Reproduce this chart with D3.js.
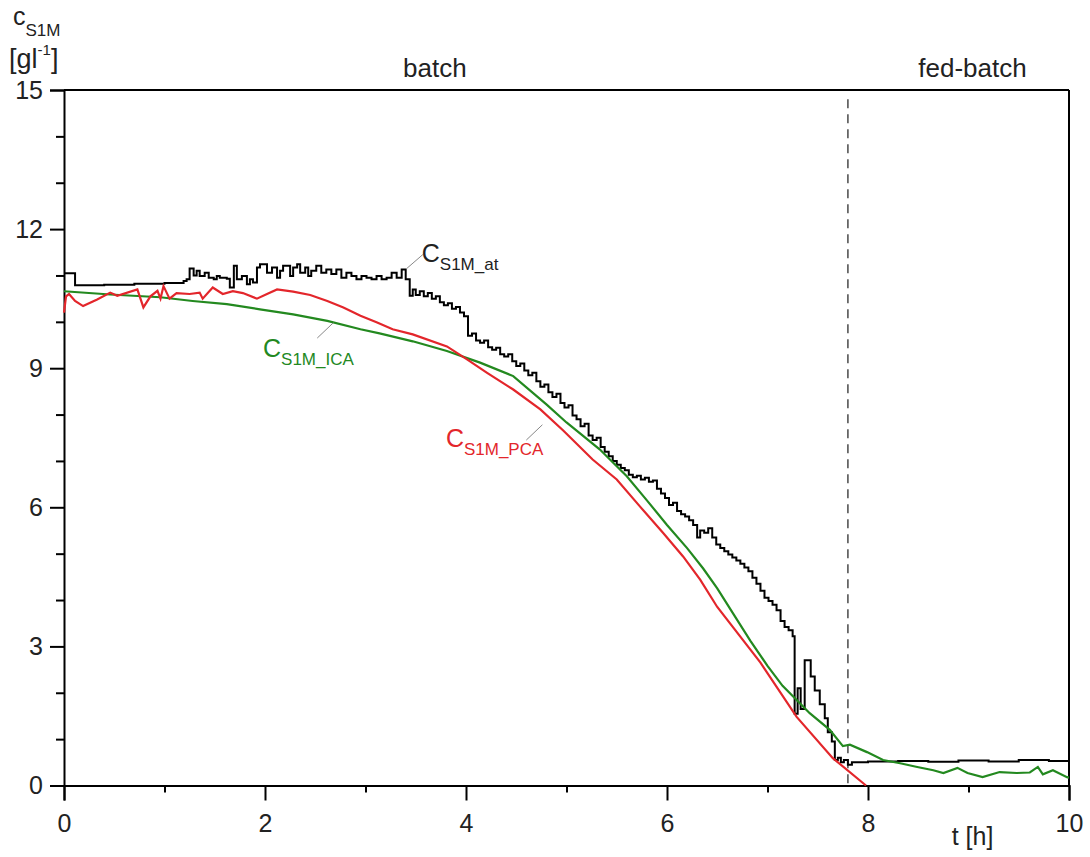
<!DOCTYPE html>
<html><head><meta charset="utf-8">
<script src="https://cdn.jsdelivr.net/npm/d3@7"></script>
<style>
html,body{margin:0;padding:0;background:#fff;}
svg text{font-family:"Liberation Sans",Arial,sans-serif;}
</style></head>
<body><svg id="c" width="1090" height="857"></svg>
<script>
// ---- data ----
const xTicksMajor = [0,2,4,6,8,10];
const xTicksMinor = [1,3,5,7,9];
const yTicksMajor = [0,3,6,9,12,15];
const yTicksMinor = [1,2,4,5,7,8,10,11,13,14];
const phaseSwitchT = 7.8;

// c_S1M_at (black, stepped)
const atT = [0,0.11,0.40,0.70,1.00,1.19,1.22,1.25,1.29,1.32,1.35,1.40,1.44,1.49,1.52,1.55,1.62,1.65,1.69,1.72,1.77,1.82,1.85,1.88,1.92,1.95,2.02,2.07,2.12,2.15,2.18,2.25,2.28,2.32,2.35,2.40,2.43,2.46,2.51,2.56,2.61,2.66,2.71,2.76,2.81,2.86,2.91,2.96,3.01,3.06,3.11,3.16,3.21,3.26,3.31,3.36,3.40,
  3.44,3.47,3.50,3.54,3.58,3.62,3.66,3.70,3.74,3.78,3.82,3.86,3.90,3.94,3.98,4.02,4.06,4.10,4.14,4.18,4.22,4.26,4.30,4.34,4.38,4.42,4.46,4.50,4.54,4.58,4.62,4.66,4.70,4.74,4.78,4.82,4.86,4.90,4.94,4.98,5.02,5.06,5.10,5.14,5.18,5.22,5.26,5.30,5.34,5.38,5.42,5.46,5.50,5.54,5.58,5.62,5.66,5.70,5.74,5.78,5.82,5.86,5.90,5.94,5.98,6.02,6.06,6.10,6.14,6.18,6.22,6.26,6.30,6.33,6.37,6.41,6.45,6.49,6.53,6.57,6.61,6.65,6.69,6.73,6.77,6.81,6.85,6.89,6.93,6.97,7.01,7.05,7.09,7.13,7.17,7.21,7.25,
  7.27,7.30,7.33,7.37,7.43,7.47,7.52,7.57,7.60,7.64,7.67,7.70,7.73,7.76,7.80,7.84,8.00,8.30,8.60,8.90,9.20,9.50,9.80,10.0];
const atV = [11.05,10.79,10.80,10.82,10.84,10.88,10.92,11.15,11.00,11.10,10.99,11.06,10.95,10.92,10.99,10.95,10.93,10.74,11.21,10.92,10.99,10.81,10.92,10.85,11.17,11.24,11.06,11.17,10.95,11.10,11.21,10.99,11.17,11.24,11.06,11.17,10.99,11.10,11.21,11.06,11.13,11.03,11.13,10.95,11.06,10.99,10.92,10.99,10.95,10.92,10.99,10.92,10.95,11.06,10.95,11.13,10.92,
  10.56,10.70,10.58,10.66,10.55,10.62,10.50,10.55,10.42,10.36,10.40,10.28,10.32,10.20,10.12,9.70,9.75,9.60,9.55,9.60,9.45,9.40,9.44,9.30,9.25,9.30,9.15,9.05,9.10,8.95,8.85,8.90,8.72,8.60,8.65,8.48,8.38,8.45,8.25,8.15,8.20,7.98,7.90,7.75,7.80,7.55,7.45,7.50,7.30,7.20,7.10,7.00,6.92,6.85,6.80,6.70,6.65,6.68,6.60,6.64,6.55,6.58,6.40,6.30,6.20,6.05,6.10,5.92,5.85,5.80,5.72,5.62,5.35,5.50,5.45,5.55,5.35,5.20,5.12,5.05,4.98,4.92,4.85,4.78,4.70,4.62,4.48,4.35,4.20,4.05,3.98,3.90,3.78,3.55,3.42,3.35,3.22,
  1.55,2.10,1.65,2.70,2.35,2.05,1.75,1.45,1.15,0.95,0.55,0.60,0.50,0.55,0.45,0.50,0.52,0.53,0.51,0.54,0.52,0.55,0.53,0.53];

// c_S1M_PCA (red)
const pcaT = [0,0.02,0.05,0.11,0.19,0.33,0.46,0.53,0.73,0.79,0.86,0.93,0.96,0.99,1.05,1.12,1.25,1.35,1.38,1.48,1.58,1.68,1.78,1.92,2.02,2.12,2.28,2.45,2.62,2.78,2.95,3.11,3.27,3.47,3.81,4.01,4.21,4.47,4.74,4.97,5.26,5.50,5.73,5.96,6.16,6.33,6.50,6.93,7.29,7.65,7.98];
const pcaV = [10.20,10.55,10.60,10.45,10.34,10.48,10.63,10.56,10.70,10.31,10.55,10.67,10.50,10.77,10.50,10.62,10.60,10.63,10.50,10.74,10.60,10.66,10.62,10.50,10.60,10.70,10.65,10.58,10.45,10.31,10.13,9.99,9.84,9.73,9.47,9.19,8.90,8.54,8.11,7.65,7.03,6.60,6.02,5.45,4.94,4.44,3.85,2.65,1.48,0.59,0.0];

// c_S1M_ICA (green)
const icaT = [0,0.46,0.96,1.28,1.62,1.95,2.28,2.62,2.95,3.14,3.47,3.81,4.14,4.47,4.80,5.00,5.33,5.60,5.80,6.00,6.20,6.36,6.50,6.66,6.83,7.00,7.15,7.42,7.62,7.75,7.82,7.99,8.15,8.32,8.49,8.65,8.75,8.89,8.99,9.14,9.31,9.48,9.61,9.69,9.74,9.84,9.98,10.0];
const icaV = [10.66,10.59,10.53,10.45,10.38,10.27,10.16,10.02,9.84,9.75,9.58,9.37,9.12,8.83,8.22,7.83,7.25,6.67,6.15,5.62,5.12,4.68,4.25,3.70,3.12,2.58,2.15,1.56,1.20,0.85,0.88,0.72,0.55,0.48,0.40,0.33,0.27,0.38,0.27,0.18,0.29,0.27,0.28,0.40,0.24,0.33,0.18,0.17];

// ---- drawing ----
const svg = d3.select("#c");
const pL = 64, pR = 1069, pT = 90, pB = 785.5;
const x = d3.scaleLinear().domain([0,10]).range([pL,pR]);
const y = d3.scaleLinear().domain([0,15]).range([pB,pT]);
const RED = "#e3262b", GREEN = "#23891f", FS = 25;

// frame (top and right)
svg.append("line").attr("x1",pL).attr("x2",pR).attr("y1",pT).attr("y2",pT).attr("stroke","#000").attr("stroke-width",2);
svg.append("line").attr("x1",pR).attr("x2",pR).attr("y1",pT).attr("y2",pB).attr("stroke","#000").attr("stroke-width",2);

// phase line
svg.append("line").attr("x1",x(phaseSwitchT)).attr("x2",x(phaseSwitchT))
  .attr("y1",y(14.8)).attr("y2",pB).attr("stroke","#555").attr("stroke-width",1.6)
  .attr("stroke-dasharray","9,6");

// axes
const xAxis = d3.axisBottom(x).tickValues(xTicksMajor).tickSize(15).tickPadding(14).tickFormat(d3.format("d"));
const gx = svg.append("g").attr("transform",`translate(0,${pB})`).call(xAxis);
gx.select(".domain").attr("stroke-width",2);
gx.selectAll(".tick line").attr("stroke-width",2);
gx.selectAll("text").attr("font-size",FS).attr("fill","#222").style("font-family","Liberation Sans, Arial, sans-serif");
const gxm = svg.append("g").attr("transform",`translate(0,${pB})`).call(d3.axisBottom(x).tickValues(xTicksMinor).tickSize(7).tickFormat(""));
gxm.select(".domain").remove(); gxm.selectAll(".tick line").attr("stroke-width",2);

const yAxis = d3.axisLeft(y).tickValues(yTicksMajor).tickSize(14).tickPadding(7).tickFormat(d3.format("d"));
const gy = svg.append("g").attr("transform",`translate(${pL},0)`).call(yAxis);
gy.select(".domain").attr("stroke-width",2);
gy.selectAll(".tick line").attr("stroke-width",2);
gy.selectAll("text").attr("font-size",FS).attr("fill","#222").style("font-family","Liberation Sans, Arial, sans-serif");
const gym = svg.append("g").attr("transform",`translate(${pL},0)`).call(d3.axisLeft(y).tickValues(yTicksMinor).tickSize(8).tickFormat(""));
gym.select(".domain").remove(); gym.selectAll(".tick line").attr("stroke-width",2);

// series
const zip = (ts,vs)=>ts.map((t,i)=>[t,vs[i]]);
const lin = d3.line().x(d=>x(d[0])).y(d=>y(d[1]));
const step = d3.line().x(d=>x(d[0])).y(d=>y(d[1])).curve(d3.curveStepAfter);
svg.append("path").attr("d",step(zip(atT,atV))).attr("fill","none").attr("stroke","#000").attr("stroke-width",2);
svg.append("path").attr("d",lin(zip(icaT,icaV))).attr("fill","none").attr("stroke",GREEN).attr("stroke-width",2.2);
svg.append("path").attr("d",lin(zip(pcaT,pcaV))).attr("fill","none").attr("stroke",RED).attr("stroke-width",2.2);

// text helpers
function label(xp, yp, main, sub, color, fsMain, fsSub, subDy){
  const t = svg.append("text").attr("x",xp).attr("y",yp).attr("fill",color).attr("font-size",fsMain);
  t.append("tspan").text(main);
  t.append("tspan").attr("font-size",fsSub).attr("dy",subDy).text(sub);
}
// y-axis title
label(13, 25, "c", "S1M", "#222", 25, 17, 11);
const g2 = svg.append("text").attr("x",9).attr("y",68).attr("fill","#222").attr("font-size",27);
g2.append("tspan").text("[gl");
g2.append("tspan").attr("font-size",15).attr("dy",-13).text("-1");
g2.append("tspan").attr("dy",13).text("]");

// phase titles
svg.append("text").attr("x",x(3.69)).attr("y",77).attr("text-anchor","middle").attr("font-size",26).attr("fill","#222").text("batch");
svg.append("text").attr("x",x(9.04)).attr("y",77).attr("text-anchor","middle").attr("font-size",26).attr("fill","#222").text("fed-batch");
// x title
svg.append("text").attr("x",x(9.04)).attr("y",845).attr("text-anchor","middle").attr("font-size",25).attr("fill","#222").text("t [h]");

// curve annotations with leader lines
function leader(t1,v1,t2,v2){
  svg.append("line").attr("x1",x(t1)).attr("y1",y(v1)).attr("x2",x(t2)).attr("y2",y(v2)).attr("stroke","#888").attr("stroke-width",1);
}
leader(3.41,11.15,3.57,11.45);
label(x(3.56), y(11.3), "C", "S1M_at", "#222", 25, 17, 8);
leader(2.52,9.65,2.68,9.98);
label(x(1.98), y(9.25), "C", "S1M_ICA", GREEN, 25, 17, 8);
leader(4.60,7.45,4.76,7.78);
label(x(3.8), y(7.3), "C", "S1M_PCA", RED, 25, 17, 8);
</script></body></html>
